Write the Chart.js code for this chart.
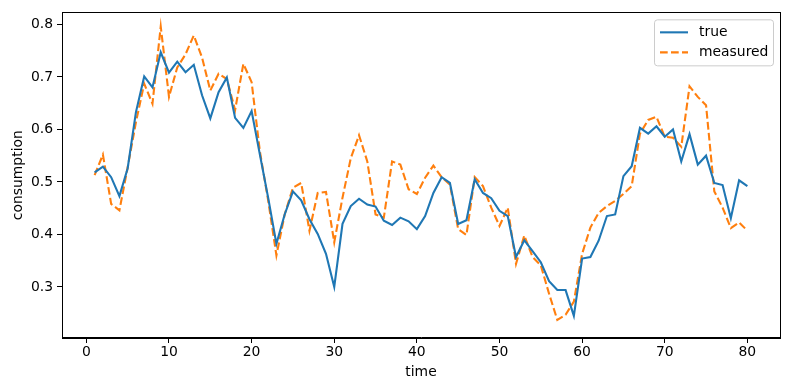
<!DOCTYPE html>
<html>
<head>
<meta charset="utf-8">
<script src="https://cdn.jsdelivr.net/npm/chart.js@4/dist/chart.umd.min.js"></script>
<style>
    html, body { margin: 0; padding: 0; background: #fff; }
    #wrap { width: 790px; height: 390px; }
</style>
</head>
<body>
<div id="wrap"><canvas id="chart" width="790" height="390"></canvas></div>
<script>
const times = [
    1, 2, 3, 4, 5, 6, 7, 8, 9, 10, 11, 12, 13, 14, 15, 16, 17, 18, 19, 20,
    21, 22, 23, 24, 25, 26, 27, 28, 29, 30, 31, 32, 33, 34, 35, 36, 37, 38, 39, 40,
    41, 42, 43, 44, 45, 46, 47, 48, 49, 50, 51, 52, 53, 54, 55, 56, 57, 58, 59, 60,
    61, 62, 63, 64, 65, 66, 67, 68, 69, 70, 71, 72, 73, 74, 75, 76, 77, 78, 79, 80
];

const trueValues = [
    0.518, 0.529, 0.509, 0.473, 0.526, 0.633, 0.701, 0.680, 0.747, 0.708,
    0.729, 0.709, 0.723, 0.665, 0.621, 0.671, 0.699, 0.622, 0.603, 0.635,
    0.552, 0.470, 0.382, 0.438, 0.482, 0.465, 0.429, 0.401, 0.363, 0.300,
    0.420, 0.454, 0.468, 0.457, 0.453, 0.426, 0.418, 0.432, 0.425, 0.410,
    0.435, 0.479, 0.509, 0.498, 0.420, 0.427, 0.505, 0.479, 0.469, 0.445,
    0.435, 0.357, 0.389, 0.368, 0.347, 0.311, 0.294, 0.294, 0.245, 0.354,
    0.357, 0.388, 0.435, 0.438, 0.511, 0.530, 0.603, 0.592, 0.606, 0.586,
    0.600, 0.539, 0.591, 0.533, 0.550, 0.498, 0.494, 0.431, 0.503, 0.492
];

const measuredValues = [
    0.513, 0.552, 0.458, 0.446, 0.528, 0.614, 0.687, 0.649, 0.796, 0.662,
    0.718, 0.743, 0.779, 0.737, 0.674, 0.706, 0.696, 0.637, 0.725, 0.690,
    0.558, 0.465, 0.360, 0.438, 0.489, 0.498, 0.407, 0.479, 0.481, 0.385,
    0.470, 0.545, 0.589, 0.539, 0.438, 0.432, 0.539, 0.533, 0.486, 0.477,
    0.508, 0.531, 0.509, 0.495, 0.410, 0.399, 0.509, 0.492, 0.451, 0.416,
    0.451, 0.344, 0.398, 0.357, 0.341, 0.287, 0.237, 0.247, 0.272, 0.363,
    0.413, 0.441, 0.454, 0.464, 0.477, 0.492, 0.592, 0.618, 0.624, 0.586,
    0.584, 0.567, 0.682, 0.662, 0.646, 0.482, 0.451, 0.412, 0.423, 0.407
];

const xTicks = [0, 10, 20, 30, 40, 50, 60, 70, 80];
const yTicks = [0.3, 0.4, 0.5, 0.6, 0.7, 0.8];

const FONT = "'DejaVu Sans', sans-serif";

function toPoints(values) {
    return times.map((t, i) => ({ x: t, y: values[i] }));
}

// frame round the plot area, like the matplotlib spines
const framePlugin = {
    id: 'frame',
    afterDatasetsDraw(chart) {
        const { ctx, chartArea: a } = chart;
        ctx.save();
        ctx.strokeStyle = '#000';
        ctx.lineWidth = 1;
        ctx.strokeRect(Math.round(a.left) + 0.5, Math.round(a.top) + 0.5,
            Math.round(a.right - a.left), Math.round(a.bottom - a.top));
        ctx.restore();
    }
};

// legend box in the upper right corner
const legendPlugin = {
    id: 'boxLegend',
    afterDraw(chart) {
        const { ctx, chartArea: a } = chart;
        const sets = chart.data.datasets;
        const w = 119, h = 46;
        const x = a.right - 7 - w, y = a.top + 7;
        ctx.save();
        ctx.beginPath();
        ctx.roundRect(x + 0.5, y + 0.5, w, h, 3);
        ctx.fillStyle = 'rgba(255,255,255,0.8)';
        ctx.fill();
        ctx.strokeStyle = '#cccccc';
        ctx.lineWidth = 1;
        ctx.stroke();
        ctx.font = '13.9px ' + FONT;
        ctx.textBaseline = 'middle';
        sets.forEach((ds, i) => {
            const ly = y + 13 + i * 20;
            ctx.beginPath();
            ctx.setLineDash(ds.borderDash || []);
            ctx.strokeStyle = ds.borderColor;
            ctx.lineWidth = ds.borderWidth;
            ctx.moveTo(x + 6, ly);
            ctx.lineTo(x + 34, ly);
            ctx.stroke();
            ctx.setLineDash([]);
            ctx.fillStyle = '#000';
            ctx.fillText(ds.label, x + 45, ly);
        });
        ctx.restore();
    }
};

new Chart(document.getElementById('chart'), {
    type: 'line',
    data: {
        datasets: [
            {
                label: 'true',
                data: toPoints(trueValues),
                borderColor: '#1f77b4',
                borderWidth: 2.1,
                pointRadius: 0,
                tension: 0,
                fill: false
            },
            {
                label: 'measured',
                data: toPoints(measuredValues),
                borderColor: '#ff7f0e',
                borderWidth: 2.1,
                borderDash: [7.7, 3.3],
                pointRadius: 0,
                tension: 0,
                fill: false
            }
        ]
    },
    options: {
        responsive: false,
        animation: false,
        layout: {
            padding: { top: 9, right: 10, left: 0, bottom: 0 }
        },
        plugins: {
            legend: { display: false },
            tooltip: { enabled: false }
        },
        scales: {
            x: {
                type: 'linear',
                min: -2.95,
                max: 83.95,
                afterBuildTicks: (s) => { s.ticks = xTicks.map(v => ({ value: v })); },
                afterFit: (s) => { s.height = 52; },
                ticks: {
                    color: '#000',
                    font: { family: FONT, size: 13.9 },
                    padding: 1,
                    maxRotation: 0,
                    callback: (v) => String(v)
                },
                grid: {
                    drawOnChartArea: false,
                    drawTicks: true,
                    tickLength: 5,
                    color: '#000'
                },
                border: { display: true, color: '#000', width: 1 },
                title: {
                    display: true,
                    text: 'time',
                    color: '#000',
                    font: { family: FONT, size: 13.9 },
                    padding: { top: 0, bottom: 9 }
                }
            },
            y: {
                min: 0.2027,
                max: 0.823,
                afterBuildTicks: (s) => { s.ticks = yTicks.map(v => ({ value: v })); },
                afterFit: (s) => { s.width = 62; },
                ticks: {
                    color: '#000',
                    font: { family: FONT, size: 13.9 },
                    padding: 4,
                    callback: (v) => v.toFixed(1)
                },
                grid: {
                    drawOnChartArea: false,
                    drawTicks: true,
                    tickLength: 5,
                    color: '#000'
                },
                border: { display: true, color: '#000', width: 1 },
                title: {
                    display: true,
                    text: 'consumption',
                    color: '#000',
                    font: { family: FONT, size: 13.9 },
                    padding: { top: 10, bottom: 0 }
                }
            }
        }
    },
    plugins: [framePlugin, legendPlugin]
});
</script>
</body>
</html>
